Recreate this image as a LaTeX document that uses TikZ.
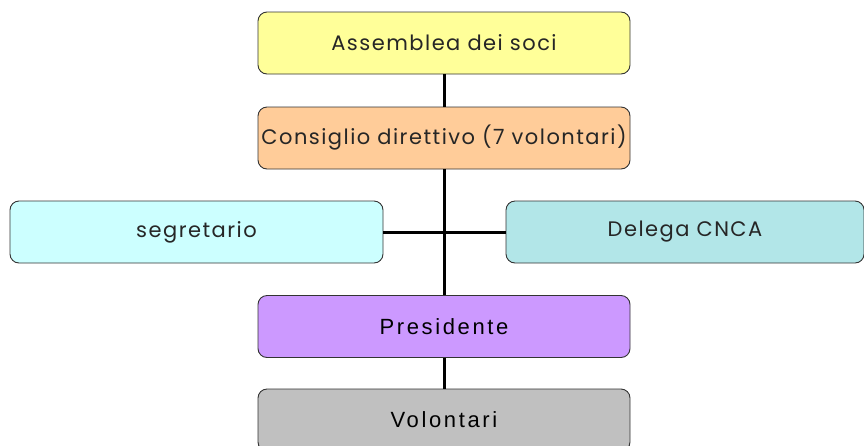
\documentclass[tikz,border=0pt]{standalone}
\usepackage{fontspec}
\setmainfont{Poppins}[LetterSpace=7]
\newfontfamily\arialfont{Liberation Sans}[LetterSpace=12]
\definecolor{cYellow}{HTML}{FFFF99}
\definecolor{cPeach}{HTML}{FFCC99}
\definecolor{cCyan}{HTML}{CCFFFF}
\definecolor{cTeal}{HTML}{B2E6E8}
\definecolor{cPurple}{HTML}{CC99FF}
\definecolor{cGray}{HTML}{C0C0C0}
\definecolor{cBorder}{HTML}{333333}
\tikzset{
  orgbox/.style={draw=cBorder, line width=0.9pt, rounded corners=9pt, inner sep=0pt,
    font=\fontsize{21}{24}\selectfont, text=black!85},
  arialbox/.style={orgbox, font=\arialfont\fontsize{22}{25}\selectfont, text=black},
  link/.style={line width=3pt, black}
}
\begin{document}
\begin{tikzpicture}[x=1pt,y=-1pt]
\useasboundingbox (0,0) rectangle (864,445);
\node[orgbox, fill=cYellow, minimum width=372pt, minimum height=62pt] (ass) at (444,43) {Assemblea dei soci};
\node[orgbox, fill=cPeach, minimum width=372pt, minimum height=62pt] (cons) at (444,138) {Consiglio direttivo (7 volontari)};
\node[orgbox, fill=cCyan, minimum width=373pt, minimum height=62pt] (seg) at (196.5,232) {segretario};
\node[orgbox, fill=cTeal, minimum width=358pt, minimum height=62pt] (del) at (685,232) {Delega CNCA};
\node[arialbox, fill=cPurple, minimum width=372pt, minimum height=62pt] (pres) at (444,326.5) {Presidente};
\node[arialbox, fill=cGray, minimum width=372pt, minimum height=62pt] (vol) at (444,420) {Volontari};
\draw[link] (ass.south) -- (cons.north);
\draw[link] (cons.south) -- (pres.north);
\draw[link] (seg.east) -- (del.west);
\draw[link] (pres.south) -- (vol.north);
\end{tikzpicture}
\end{document}
